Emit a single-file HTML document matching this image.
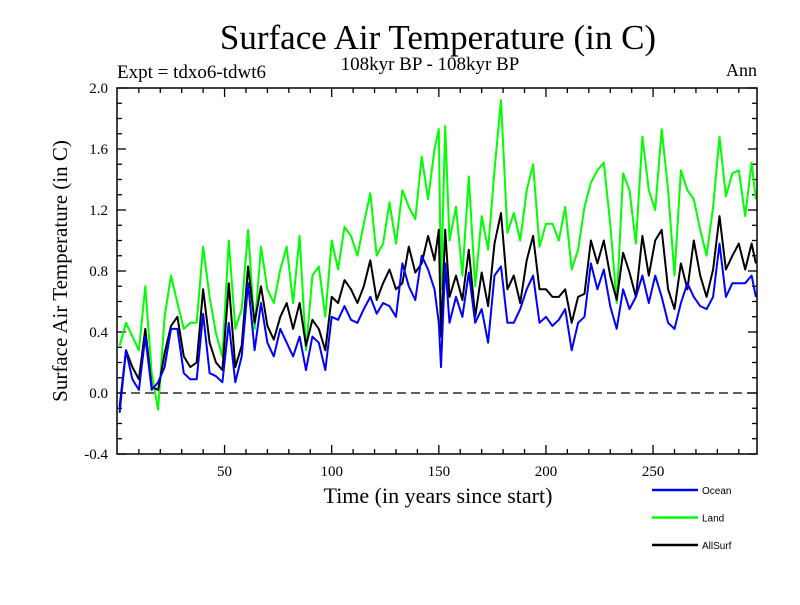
<!DOCTYPE html>
<html><head><meta charset="utf-8"><style>
body{margin:0;background:#fff}
svg text{font-family:"Liberation Serif",serif}
</style></head><body>
<svg id="chart" width="800" height="600" xmlns="http://www.w3.org/2000/svg">
<rect width="800" height="600" fill="#fff"/>
<text x="438" y="49" font-size="35" text-anchor="middle">Surface Air Temperature (in C)</text>
<text x="117" y="78" font-size="19">Expt = tdxo6-tdwt6</text>
<text x="430" y="70" font-size="19" text-anchor="middle">108kyr BP - 108kyr BP</text>
<text x="757" y="76" font-size="18" text-anchor="end">Ann</text>
<text transform="translate(67,271) rotate(-90)" font-size="21" text-anchor="middle">Surface Air Temperature (in C)</text>
<text x="438" y="503" font-size="22" text-anchor="middle">Time (in years since start)</text>
<g id="ticks"></g>
<g id="series"></g>
<rect x="117" y="88" width="640" height="366" fill="none" stroke="#000" stroke-width="1.5"/>
<g id="legend"></g>
</svg>
<script>
const years=[1,4,7,10,13,16,19,22,25,28,31,34,37,40,43,46,49,52,55,58,61,64,67,70,73,76,
79,82,85,88,91,94,97,100,103,106,109,112,115,118,121,124,127,130,133,136,139,142,145,148,150,
151,153,155,158,161,164,167,170,173,176,179,182,185,188,191,194,197,200,203,206,209,212,215,218,221,224,
227,230,233,236,239,242,245,248,251,254,257,260,263,266,269,272,275,278,281,284,287,290,293,296,298];
const land=[0.31,0.46,0.37,0.28,0.70,0.13,-0.11,0.50,0.77,0.59,0.42,0.46,0.46,0.96,0.63,0.39,0.24,1.0,0.42,0.55,1.07,0.42,0.96,0.68,0.59,0.81,
0.96,0.59,1.03,0.28,0.77,0.83,0.50,1.00,0.81,1.09,1.03,0.90,1.11,1.31,0.90,0.98,1.25,0.98,1.33,1.22,1.14,1.55,1.27,1.60,1.73,
0.68,1.75,1.00,1.22,0.77,1.42,0.70,1.16,0.94,1.46,1.92,1.05,1.18,1.00,1.33,1.50,0.96,1.11,1.11,1.00,1.22,0.81,0.94,1.22,1.38,1.46,
1.51,1.11,0.59,1.44,1.33,0.98,1.68,1.33,1.20,1.73,1.33,0.77,1.46,1.33,1.27,1.07,0.90,1.22,1.68,1.29,1.44,1.46,1.16,1.51,1.27];
const allsurf=[-0.09,0.28,0.17,0.09,0.42,0.04,0.02,0.26,0.44,0.50,0.24,0.17,0.20,0.68,0.33,0.20,0.15,0.72,0.17,0.31,0.83,0.46,0.70,0.44,0.35,0.50,
0.59,0.42,0.59,0.31,0.48,0.42,0.28,0.63,0.59,0.74,0.68,0.59,0.70,0.87,0.61,0.72,0.81,0.68,0.72,0.96,0.79,0.85,1.03,0.87,1.07,
0.37,1.07,0.63,0.77,0.61,0.94,0.50,0.79,0.57,0.98,1.18,0.68,0.77,0.59,0.87,1.03,0.68,0.68,0.63,0.63,0.68,0.46,0.63,0.65,1.00,0.85,
1.00,0.77,0.61,0.92,0.79,0.63,1.03,0.77,1.00,1.07,0.68,0.55,0.85,0.68,1.00,0.77,0.63,0.81,1.16,0.81,0.90,0.98,0.81,0.98,0.85];
const ocean=[-0.13,0.28,0.09,0.02,0.37,0.02,0.07,0.17,0.42,0.42,0.13,0.09,0.09,0.52,0.13,0.11,0.07,0.46,0.07,0.24,0.72,0.28,0.59,0.33,0.24,0.42,
0.33,0.24,0.37,0.15,0.37,0.33,0.15,0.50,0.48,0.57,0.48,0.46,0.55,0.63,0.52,0.59,0.57,0.50,0.85,0.70,0.61,0.90,0.81,0.68,0.46,
0.17,0.85,0.46,0.63,0.50,0.79,0.46,0.55,0.33,0.77,0.83,0.46,0.46,0.55,0.68,0.77,0.46,0.50,0.44,0.48,0.55,0.28,0.46,0.50,0.85,0.68,
0.81,0.57,0.42,0.68,0.55,0.63,0.77,0.59,0.77,0.63,0.46,0.42,0.59,0.72,0.63,0.57,0.55,0.63,0.98,0.63,0.72,0.72,0.72,0.77,0.63];
const yTicks=[-0.4,0.0,0.4,0.8,1.2,1.6,2.0];
const yLabels=["-0.4","0.0","0.4","0.8","1.2","1.6","2.0"];
const xTicks=[50,100,150,200,250];
const xLabels=["50","100","150","200","250"];
const seriesNames=["Ocean","Land","AllSurf"];
const seriesColors=["#0000ff","#00ff00","#000000"];

const NS="http://www.w3.org/2000/svg";
const X0=117,X1=757,Y0=454,Y1=88;
const xmin=-0.2,xmax=298.5,ymin=-0.4,ymax=2.0;
const xs=t=>X0+(t-xmin)/(xmax-xmin)*(X1-X0);
const ys=v=>Y0-(v-ymin)/(ymax-ymin)*(Y0-Y1);
function mk(tag,attrs,parent){const e=document.createElementNS(NS,tag);for(const k in attrs)e.setAttribute(k,attrs[k]);parent.appendChild(e);return e;}
const tg=document.getElementById('ticks');
for(let v=-0.4;v<=2.0001;v+=0.1){
  const y=ys(v);const major=Math.abs(Math.round(v*10)%4)===0;const L=major?9:5;
  const a=mk('line',{x1:X0,x2:X0+L,y1:y,y2:y,stroke:'#000','stroke-width':1.3},tg);
  
  
  const b=mk('line',{x1:X1,x2:X1-L,y1:y,y2:y,stroke:'#000','stroke-width':1.3},tg);
  
  
}
yTicks.forEach((v,i)=>{
  const t=mk('text',{x:108,y:ys(v)+5,'font-size':15,'text-anchor':'end'},tg);t.textContent=yLabels[i];
  
  
});
for(let t=10;t<=290;t+=10){
  const x=xs(t);const major=t%50===0;const L=major?9:5;
  const a=mk('line',{x1:x,x2:x,y1:Y0,y2:Y0-L,stroke:'#000','stroke-width':1.3},tg);
  
  
  const b=mk('line',{x1:x,x2:x,y1:Y1,y2:Y1+L,stroke:'#000','stroke-width':1.3},tg);
  
  
}
xTicks.forEach((v,i)=>{
  const t=mk('text',{x:xs(v),y:476,'font-size':15,'text-anchor':'middle'},tg);t.textContent=xLabels[i];
  
  
});
const zl=mk('line',{x1:X0,x2:X1,y1:ys(0),y2:ys(0),stroke:'#000','stroke-width':1.2,'stroke-dasharray':'9,5'},tg);


const sg=document.getElementById('series');
const data=[ocean,land,allsurf];
[1,2,0].forEach(i=>{
  const d=years.map((t,j)=>(j?'L':'M')+xs(t).toFixed(1)+','+ys(data[i][j]).toFixed(1)).join('');
  const p=mk('path',{d:d,fill:'none',stroke:seriesColors[i],'stroke-width':2,'stroke-linejoin':'round'},sg);
  
  
});
const lg=document.getElementById('legend');
seriesNames.forEach((n,i)=>{
  const y=490+i*27.5;
  const l=mk('line',{x1:652,x2:698,y1:y,y2:y,stroke:seriesColors[i],'stroke-width':2.5},lg);
  
  
  const t=mk('text',{x:702,y:y+4,'font-size':10,style:'font-family:"Liberation Sans",sans-serif'},lg);t.textContent=n;
  
  
});
</script>
</body></html>
